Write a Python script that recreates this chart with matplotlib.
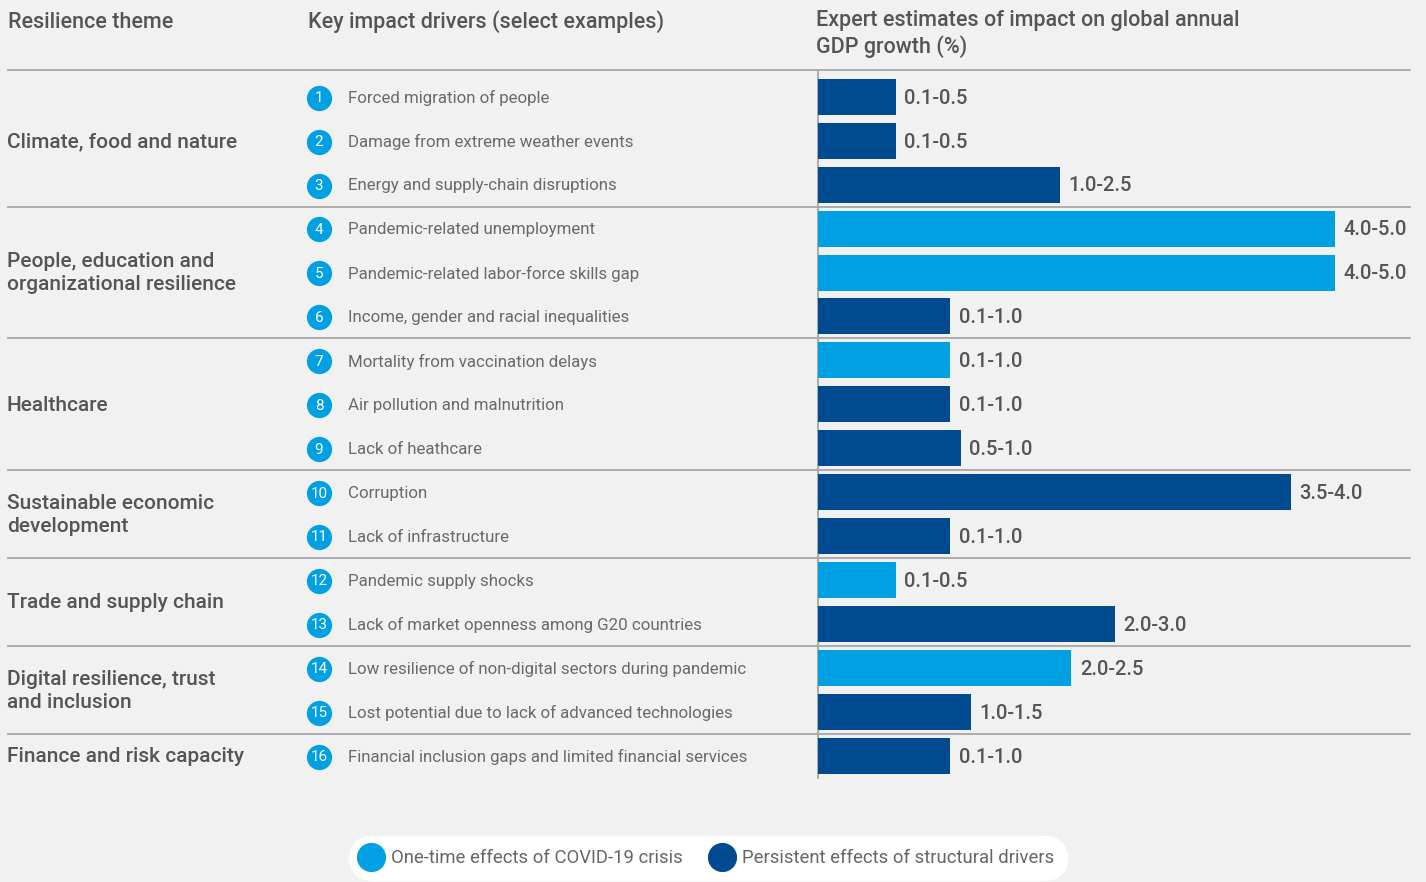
import matplotlib
matplotlib.use("Agg")
import matplotlib.pyplot as plt
from matplotlib.transforms import blended_transform_factory
from matplotlib.lines import Line2D

plt.rcParams['font.family'] = ['Roboto', 'DejaVu Sans']

# data
themes = ["Climate, food and nature",
          "People, education and\norganizational resilience",
          "Healthcare",
          "Sustainable economic\ndevelopment",
          "Trade and supply chain",
          "Digital resilience, trust\nand inclusion",
          "Finance and risk capacity"]
theme_rows = [3, 3, 3, 2, 2, 2, 1]

drivers = ["Forced migration of people",
           "Damage from extreme weather events",
           "Energy and supply-chain disruptions",
           "Pandemic-related unemployment",
           "Pandemic-related labor-force skills gap",
           "Income, gender and racial inequalities",
           "Mortality from vaccination delays",
           "Air pollution and malnutrition",
           "Lack of heathcare",
           "Corruption",
           "Lack of infrastructure",
           "Pandemic supply shocks",
           "Lack of market openness among G20 countries",
           "Low resilience of non-digital sectors during pandemic",
           "Lost potential due to lack of advanced technologies",
           "Financial inclusion gaps and limited financial services"]
ranges = ["0.1-0.5", "0.1-0.5", "1.0-2.5", "4.0-5.0", "4.0-5.0", "0.1-1.0",
          "0.1-1.0", "0.1-1.0", "0.5-1.0", "3.5-4.0", "0.1-1.0", "0.1-0.5",
          "2.0-3.0", "2.0-2.5", "1.0-1.5", "0.1-1.0"]
# bar lengths as drawn (relative scale, 4.0-5.0 bar = 5.0)
bar_len = [0.75, 0.75, 2.34, 5.0, 5.0, 1.28, 1.28, 1.28, 1.38, 4.57, 1.28,
           0.75, 2.87, 2.45, 1.48, 1.28]
one_time = [False, False, False, True, True, False, True, False, False,
            False, False, True, False, True, False, False]

LIGHT = '#00a0e2'
DARK = '#004a8f'
BG = '#f1f1f1'
GREY_TXT = '#555555'
LINE = '#a6a6a6'

W, H = 1426, 882
fig = plt.figure(figsize=(W / 100, H / 100), dpi=100, facecolor=BG)
ax = fig.add_axes([818 / W, 1 - 780 / H, 608 / W, 710 / H])
ax.set_facecolor('none')
ax.set_xlim(0, 608 / 103.4)
ax.set_ylim(15.55, -0.61)
ax.axis('off')

trans = blended_transform_factory(fig.transFigure, ax.transData)
rows = list(range(len(drivers)))
colors = [LIGHT if o else DARK for o in one_time]

ax.barh(rows, bar_len, height=0.82, color=colors, zorder=2)
for r, v, lab in zip(rows, bar_len, ranges):
    ax.text(v + 0.085, r + 0.03, lab, va='center', ha='left', fontsize=14.5,
            fontweight='medium', color=GREY_TXT)

# headers
hdr = dict(fontsize=15.5, fontweight='medium', color=GREY_TXT, va='center')
fig.text(8 / W, 1 - 22 / H, "Resilience theme", **hdr)
fig.text(308 / W, 1 - 22 / H, "Key impact drivers (select examples)", **hdr)
fig.text(816 / W, 1 - 34 / H, "Expert estimates of impact on global annual\nGDP growth (%)",
         linespacing=1.2, **hdr)

# separators
bounds = [-0.61]
acc = 0
for n in theme_rows[:-1]:
    acc += n
    bounds.append(acc - 0.5)
for b in bounds:
    ax.plot([8 / W, 1410 / W], [b, b], transform=trans, color=LINE, lw=1.3,
            clip_on=False, zorder=1)
ax.plot([0, 0], [-0.61, 15.5], color=LINE, lw=1.3, clip_on=False, zorder=1)

# theme labels
start = 0
for name, n in zip(themes, theme_rows):
    c = start + (n - 1) / 2
    ax.text(7 / W, c + 0.02, name, transform=trans, fontsize=15, fontweight='medium',
            color=GREY_TXT, va='center', ha='left', linespacing=1.27)
    start += n

# numbered drivers
ax.scatter([319 / W] * len(rows), [r + 0.02 for r in rows], s=330, color=LIGHT,
           transform=trans, clip_on=False, zorder=3, linewidths=0)
for r, d in zip(rows, drivers):
    ax.text(319 / W, r + 0.03, str(r + 1), transform=trans, ha='center', va='center',
            fontsize=11, color='white', zorder=4)
    ax.text(348 / W, r + 0.03, d, transform=trans, ha='left', va='center',
            fontsize=12.2, color='#6a6a6a')

# legend
handles = [Line2D([], [], ls='none', marker='o', markersize=20, color=LIGHT,
                  label="One-time effects of COVID-19 crisis"),
           Line2D([], [], ls='none', marker='o', markersize=20, color=DARK,
                  label="Persistent effects of structural drivers")]
leg = fig.legend(handles=handles, loc='center', bbox_to_anchor=(708 / W, 1 - 858 / H),
                 ncol=2, frameon=True, facecolor='white', edgecolor='white',
                 framealpha=1, fontsize=13.3, handletextpad=0.6, columnspacing=1.6,
                 borderpad=0.55, handlelength=1.0)
leg.get_frame().set_boxstyle('round,pad=0.15,rounding_size=1.3')
for t in leg.get_texts():
    t.set_color('#666666')

fig.savefig("out.png", dpi=100, facecolor=BG)
